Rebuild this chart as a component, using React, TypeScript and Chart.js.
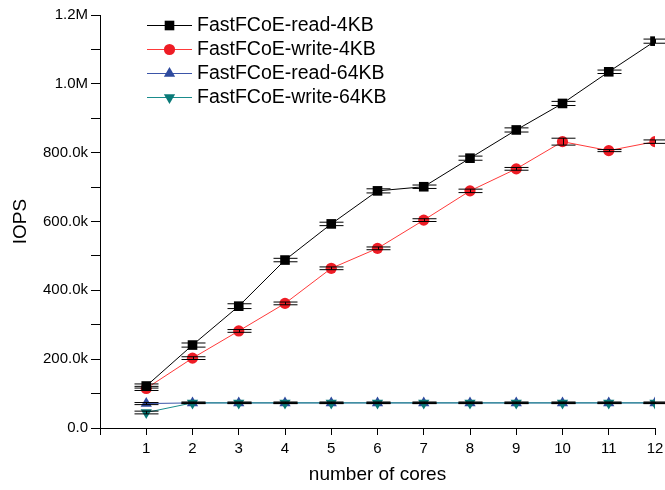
import React, { useEffect, useRef } from 'react';
import { Chart, registerables } from 'chart.js';

Chart.register(...registerables);

// ---- Data (IOPS) ----
const cores = [1, 2, 3, 4, 5, 6, 7, 8, 9, 10, 11, 12];
const read4KB = [122000, 241000, 354000, 488000, 593000, 689000, 701000, 784000, 866000, 943000, 1035000, 1124000];
const write4KB = [115000, 203000, 282000, 362000, 464000, 522000, 604000, 689000, 753000, 832000, 806000, 832000];
const read64KB = [71000, 73000, 73000, 73000, 73000, 73000, 73000, 73000, 73000, 73000, 73000, 73000];
const write64KB = [45000, 73000, 73000, 73000, 73000, 73000, 73000, 73000, 73000, 73000, 73000, 73000];

const read4KBErr = [6000, 6000, 7000, 5000, 5000, 6000, 5000, 6000, 6000, 6000, 5000, 6000];
const write4KBErr = [6000, 4000, 4000, 4000, 4000, 4000, 4000, 5000, 4000, 10000, 3000, 5000];
const read64KBErr = [3000, 2000, 2000, 2000, 2000, 2000, 2000, 2000, 2000, 2000, 2000, 2000];
const write64KBErr = [4000, 2000, 2000, 2000, 2000, 2000, 2000, 2000, 2000, 2000, 2000, 2000];

const seriesLabels = ['FastFCoE-read-4KB', 'FastFCoE-write-4KB', 'FastFCoE-read-64KB', 'FastFCoE-write-64KB'];
const yTickLabels: Record<number, string> = {
  0: '0.0',
  200000: '200.0k',
  400000: '400.0k',
  600000: '600.0k',
  800000: '800.0k',
  1000000: '1.0M',
  1200000: '1.2M',
};
const xTitle = 'number of cores';
const yTitle = 'IOPS';

const FONT = '"Liberation Sans", Arial, sans-serif';

const styles = [
  { line: '#000000', fill: '#000000', shape: 'rect', radius: 6.8, rotation: 0 },
  { line: '#ff3a3a', fill: '#ee1c25', shape: 'circle', radius: 5.6, rotation: 0 },
  { line: '#3b55a8', fill: '#2e4a9e', shape: 'triangle', radius: 6.5, rotation: 0 },
  { line: '#1a8c8c', fill: '#0a7a78', shape: 'triangle', radius: 6.5, rotation: 180 },
];

const allValues = [read4KB, write4KB, read64KB, write64KB];
const allErrors = [read4KBErr, write4KBErr, read64KBErr, write64KBErr];

function drawMarker(ctx: CanvasRenderingContext2D, shape: string, x: number, y: number, r: number, rotation: number) {
  ctx.beginPath();
  if (shape === 'rect') {
    const s = Math.SQRT1_2 * r;
    ctx.rect(x - s, y - s, 2 * s, 2 * s);
  } else if (shape === 'circle') {
    ctx.arc(x, y, r, 0, Math.PI * 2);
  } else {
    let rad = (rotation * Math.PI) / 180;
    ctx.moveTo(x + Math.sin(rad) * r, y - Math.cos(rad) * r);
    rad += (2 * Math.PI) / 3;
    ctx.lineTo(x + Math.sin(rad) * r, y - Math.cos(rad) * r);
    rad += (2 * Math.PI) / 3;
    ctx.lineTo(x + Math.sin(rad) * r, y - Math.cos(rad) * r);
    ctx.closePath();
  }
  ctx.fill();
}

const errorBarsPlugin = {
  id: 'errorBars',
  afterDatasetsDraw(chart: any) {
    const { ctx, scales } = chart;
    const xs = scales.x;
    const ys = scales.y;
    ctx.save();
    ctx.strokeStyle = '#000';
    ctx.lineWidth = 1;
    allValues.forEach((vals, i) => {
      const errs = allErrors[i];
      vals.forEach((v, j) => {
        const px = Math.round(xs.getPixelForValue(cores[j])) + 0.5;
        const y1 = ys.getPixelForValue(v - errs[j]);
        const y2 = ys.getPixelForValue(v + errs[j]);
        ctx.beginPath();
        ctx.moveTo(px, y1);
        ctx.lineTo(px, y2);
        ctx.moveTo(px - 12, y1);
        ctx.lineTo(px + 12, y1);
        ctx.moveTo(px - 12, y2);
        ctx.lineTo(px + 12, y2);
        ctx.stroke();
      });
    });
    ctx.restore();
  },
};

const legendPlugin = {
  id: 'insideLegend',
  afterDraw(chart: any) {
    const { ctx } = chart;
    ctx.save();
    seriesLabels.forEach((label, i) => {
      const st = styles[i];
      const y = 25 + i * 24;
      ctx.strokeStyle = st.line;
      ctx.lineWidth = 1;
      ctx.beginPath();
      ctx.moveTo(147, y + 0.5);
      ctx.lineTo(192, y + 0.5);
      ctx.stroke();
      ctx.fillStyle = st.fill;
      drawMarker(ctx, st.shape, 169.5, y + 0.5, st.radius, st.rotation);
      ctx.fillStyle = '#000';
      ctx.font = `19.5px ${FONT}`;
      ctx.textAlign = 'left';
      ctx.textBaseline = 'middle';
      ctx.fillText(label, 197, y + 1);
    });
    ctx.restore();
  },
};

export default function App() {
  const canvasRef = useRef<HTMLCanvasElement | null>(null);

  useEffect(() => {
    document.body.style.margin = '0';
    const canvas = canvasRef.current;
    if (!canvas) return;

    const datasets = allValues.map((vals, i) => ({
      label: seriesLabels[i],
      data: vals.map((v, j) => ({ x: cores[j], y: v })),
      borderColor: styles[i].line,
      backgroundColor: styles[i].fill,
      pointBackgroundColor: styles[i].fill,
      pointBorderColor: styles[i].fill,
      pointBorderWidth: 0,
      pointStyle: styles[i].shape,
      pointRadius: styles[i].radius,
      pointRotation: styles[i].rotation,
      borderWidth: 1,
      tension: 0,
      fill: false,
      order: [1, 2, 4, 3][i],
    }));

    const chart = new Chart(canvas, {
      type: 'line',
      data: { datasets },
      plugins: [errorBarsPlugin, legendPlugin],
      options: {
        animation: false,
        responsive: false,
        devicePixelRatio: 1,
        layout: { padding: { left: 0, right: 10, top: 15, bottom: 0 } },
        plugins: {
          legend: { display: false },
          tooltip: { enabled: false },
        },
        scales: {
          x: {
            type: 'linear',
            min: 0,
            max: 12,
            ticks: {
              stepSize: 1,
              color: '#000',
              font: { family: FONT, size: 15 },
              padding: 5,
              maxRotation: 0,
              autoSkip: false,
              callback: (v: any) => (v === 0 ? '' : String(v)),
            },
            grid: {
              drawOnChartArea: false,
              drawTicks: true,
              tickLength: 7,
              color: '#000',
            },
            border: { display: true, color: '#000', width: 1 },
            title: {
              display: true,
              text: xTitle,
              color: '#000',
              font: { family: FONT, size: 19 },
              padding: { top: 0, bottom: 4 },
            },
            afterFit: (scale: any) => {
              scale.height = 62;
              scale.paddingLeft = 0;
              scale.paddingRight = 0;
            },
          },
          y: {
            type: 'linear',
            min: 0,
            max: 1200000,
            ticks: {
              stepSize: 100000,
              color: '#000',
              font: { family: FONT, size: 15 },
              padding: 3,
              autoSkip: false,
              callback: (v: any) => (yTickLabels[v] !== undefined ? yTickLabels[v] : ''),
            },
            grid: {
              drawOnChartArea: false,
              drawTicks: true,
              tickLength: 9,
              color: '#000',
            },
            border: { display: true, color: '#000', width: 1 },
            title: {
              display: true,
              text: yTitle,
              color: '#000',
              font: { family: FONT, size: 19 },
              padding: { top: 9, bottom: 0 },
            },
            afterFit: (scale: any) => {
              scale.width = 100;
              scale.paddingTop = 0;
              scale.paddingBottom = 0;
            },
          },
        },
      } as any,
    });

    return () => {
      chart.destroy();
    };
  }, []);

  return (
    <div style={{ position: 'fixed', left: 0, top: 0, width: 665, height: 490, background: '#fff' }}>
      <canvas ref={canvasRef} width={665} height={490} style={{ width: 665, height: 490 }} />
    </div>
  );
}
